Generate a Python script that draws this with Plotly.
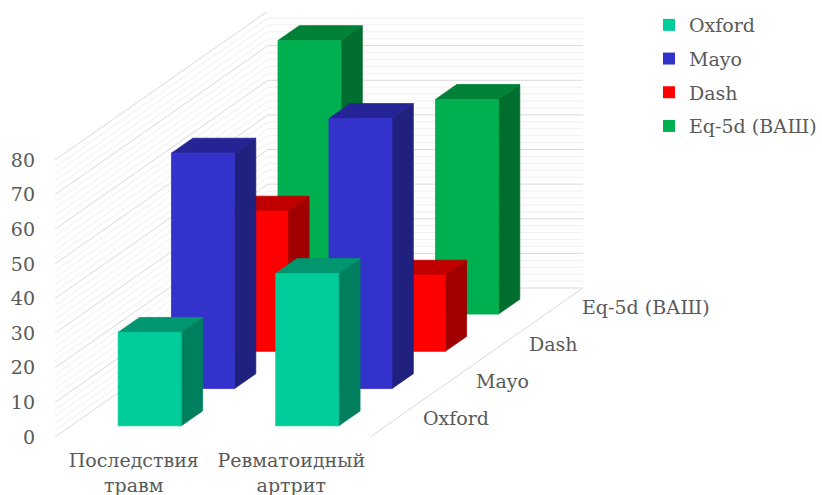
import plotly.graph_objects as go

# ---------------- data ----------------
categories = ["Последствия<br>травм", "Ревматоидный<br>артрит"]
series = ["Oxford", "Mayo", "Dash", "Eq-5d (ВАШ)"]
oxford = [27, 44]
mayo = [68, 78]
dash = [40.5, 22]
eq5d = [79, 62]
value_ticks = [0, 10, 20, 30, 40, 50, 60, 70, 80]
value_max = 80

# ---------------- styles ----------------
front_colors = ["#00CC99", "#3333CC", "#FF0000", "#00B050"]
top_colors = ["#00966F", "#242496", "#C00000", "#008138"]
side_colors = ["#007F5F", "#20207F", "#A00000", "#006E2F"]
FONT = "DejaVu Serif"
TXT = "#595959"
FS = 19

CAT_PX = 157.5      # pixels per category
VAL_PX = 3.4625     # pixels per value unit
ROW_DX_PX = 53.25   # oblique depth step per series row (x)
ROW_DY_PX = 37.25   # oblique depth step per series row (y)
dxr = ROW_DX_PX / CAT_PX
dyr = ROW_DY_PX / VAL_PX
BAR_W = 0.4
BAR_D = 0.4

W, H = 822, 495
ML, MR, MT, MB = 55, 239, 12, 58
plot_w = W - ML - MR
plot_h = H - MT - MB

values = [oxford, mayo, dash, eq5d]
n_rows = len(series)
n_cats = len(categories)

fig = go.Figure()

# legend entries
for i, name in enumerate(series):
    fig.add_trace(go.Scatter(
        x=[None], y=[None], mode="markers", name=name, legendgroup=name,
        marker=dict(symbol="square", size=11, color=front_colors[i]),
    ))

# ---------------- walls / gridlines ----------------
back_dx = n_rows * dxr
back_dy = n_rows * dyr
minor_x, minor_y, major_x, major_y = [], [], [], []
for v in range(0, value_max + 1, 2):
    xs = [0, back_dx, n_cats + back_dx, None]
    ys = [v, v + back_dy, v + back_dy, None]
    if v % 10 == 0:
        major_x += xs
        major_y += ys
    else:
        minor_x += xs
        minor_y += ys
fig.add_trace(go.Scatter(x=minor_x, y=minor_y, mode="lines",
                         line=dict(color="#EFEFEF", width=1),
                         hoverinfo="skip", showlegend=False))
fig.add_trace(go.Scatter(x=major_x, y=major_y, mode="lines",
                         line=dict(color="#D9D9D9", width=1),
                         hoverinfo="skip", showlegend=False))
# floor right edge
fig.add_trace(go.Scatter(x=[n_cats, n_cats + back_dx], y=[0, back_dy], mode="lines",
                         line=dict(color="#D9D9D9", width=1),
                         hoverinfo="skip", showlegend=False))

# ---------------- bars (back row first) ----------------
for r in reversed(range(n_rows)):
    fx, fy, tx, ty, sx, sy = [], [], [], [], [], []
    for c in range(n_cats):
        v = values[r][c]
        x0 = c + (1 - BAR_W) / 2 + (r + (1 - BAR_D) / 2) * dxr
        x1 = x0 + BAR_W
        y0 = (r + (1 - BAR_D) / 2) * dyr
        y1 = y0 + v
        ddx = BAR_D * dxr
        ddy = BAR_D * dyr
        fx += [x0, x1, x1, x0, x0, None]
        fy += [y0, y0, y1, y1, y0, None]
        tx += [x0, x1, x1 + ddx, x0 + ddx, x0, None]
        ty += [y1, y1, y1 + ddy, y1 + ddy, y1, None]
        sx += [x1, x1 + ddx, x1 + ddx, x1, x1, None]
        sy += [y0, y0 + ddy, y1 + ddy, y1, y0, None]
    for xs, ys, col in [(sx, sy, side_colors[r]), (tx, ty, top_colors[r]), (fx, fy, front_colors[r])]:
        fig.add_trace(go.Scatter(x=xs, y=ys, mode="lines", fill="toself",
                                 fillcolor=col, line=dict(color=col, width=0.8),
                                 hoverinfo="skip", showlegend=False))

# ---------------- depth axis labels ----------------
for r, name in enumerate(series):
    fig.add_annotation(x=n_cats + (r + 0.5) * dxr, y=(r + 0.5) * dyr,
                       text=name, showarrow=False, xanchor="left", yanchor="middle",
                       xshift=24, font=dict(family=FONT, size=FS, color=TXT))

fig.update_layout(
    width=W, height=H,
    margin=dict(l=ML, r=MR, t=MT, b=MB, pad=0, autoexpand=False),
    paper_bgcolor="white", plot_bgcolor="white",
    showlegend=True,
    legend=dict(x=(649 - ML) / plot_w, y=1 + 6 / plot_h, xanchor="left", yanchor="top",
                font=dict(family=FONT, size=FS, color=TXT),
                tracegroupgap=6, itemwidth=30, itemsizing="constant",
                bgcolor="rgba(0,0,0,0)"),
    font=dict(family=FONT, size=FS, color=TXT),
)
fig.update_xaxes(range=[0, plot_w / CAT_PX], showgrid=False, zeroline=False,
                 showline=False, ticks="", tickvals=[c + 0.5 for c in range(n_cats)],
                 ticktext=categories, tickfont=dict(family=FONT, size=FS, color=TXT),
                 ticklabelstandoff=10, fixedrange=True)
fig.update_yaxes(range=[0, plot_h / VAL_PX], showgrid=False, zeroline=False,
                 showline=False, ticks="", tickvals=value_ticks,
                 ticktext=[str(t) for t in value_ticks],
                 tickfont=dict(family=FONT, size=FS, color=TXT),
                 ticklabelstandoff=19, fixedrange=True)

fig.write_html("out.html")
